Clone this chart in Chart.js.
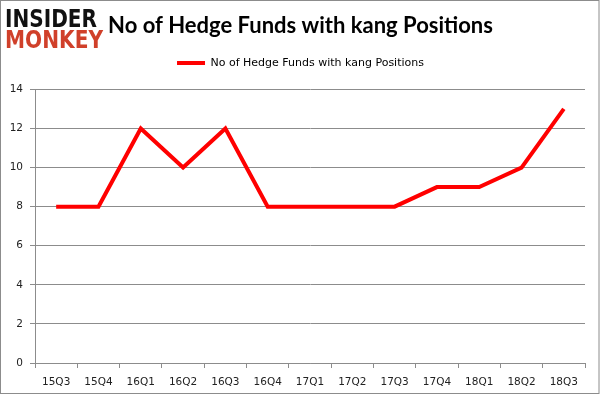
<!DOCTYPE html>
<html>
<head>
<meta charset="utf-8">
<script src="https://cdn.jsdelivr.net/npm/chart.js@4.4.0/dist/chart.umd.min.js"></script>
<style>
    html, body { margin: 0; padding: 0; background: #fff; }
    #wrap { width: 601px; height: 395px; position: relative; }
</style>
</head>
<body>
<div id="wrap"><canvas id="chartKang"></canvas></div>
<script>
var quarters = ["15Q3", "15Q4", "16Q1", "16Q2", "16Q3", "16Q4", "17Q1", "17Q2", "17Q3", "17Q4", "18Q1", "18Q2", "18Q3"];
var fundCounts = [8, 8, 12, 10, 12, 8, 8, 8, 8, 9, 9, 10, 13];
var seriesName = "No of Hedge Funds with kang Positions";
var chartTitle = "No of Hedge Funds with kang Positions";

(function () {
    // logo + moldura
    var frameAndLogo = {
        id: 'frameAndLogo',
        afterDraw: function (chart) {
            var ctx = chart.ctx;
            ctx.save();
            ctx.strokeStyle = '#8c8c8c';
            ctx.lineWidth = 1;
            ctx.strokeRect(0.5, 0.5, 598.5, 393);
            ctx.textBaseline = 'alphabetic';
            ctx.textAlign = 'left';
            ctx.font = 'bold 25px "DejaVu Sans"';
            ctx.fillStyle = '#111';
            ctx.fillText('INSIDER', 5, 27, 92);
            ctx.fillStyle = '#d0402a';
            ctx.fillText('MONKEY', 5, 48, 98);
            ctx.restore();
        }
    };

    // espaco extra abaixo da legenda
    var legendGap = {
        id: 'legendGap',
        beforeInit: function (chart) {
            var origFit = chart.legend.fit;
            chart.legend.fit = function () {
                origFit.bind(chart.legend)();
                this.height += 11;
            };
        }
    };

    var ctx = document.getElementById("chartKang").getContext("2d");
    new Chart(ctx, {
        type: 'line',
        data: {
            labels: quarters,
            datasets: [{
                label: seriesName,
                data: fundCounts,
                borderColor: '#ff0000',
                backgroundColor: '#ff0000',
                borderWidth: 4,
                pointRadius: 0,
                tension: 0,
                fill: false
            }]
        },
        options: {
            responsive: true,
            maintainAspectRatio: false,
            animation: false,
            layout: { padding: 0 },
            plugins: {
                title: {
                    display: true,
                    text: chartTitle,
                    color: '#000',
                    font: { family: 'Lato', size: 22, weight: 'bold' },
                    padding: { top: 13, bottom: 8 }
                },
                legend: {
                    display: true,
                    labels: {
                        usePointStyle: true,
                        pointStyle: 'line',
                        pointStyleWidth: 28,
                        color: '#000',
                        font: { family: 'DejaVu Sans', size: 11 },
                        padding: 10
                    }
                },
                tooltip: { enabled: false }
            },
            scales: {
                x: {
                    offset: true,
                    grid: {
                        offset: true,
                        drawOnChartArea: false,
                        color: '#8c8c8c',
                        tickLength: 5
                    },
                    border: { color: '#8c8c8c' },
                    ticks: {
                        color: '#222',
                        font: { family: 'DejaVu Sans', size: 10.5 },
                        padding: 8,
                        maxRotation: 0
                    },
                    afterFit: function (scale) { scale.height = 32; }
                },
                y: {
                    min: 0,
                    max: 14,
                    grid: {
                        color: '#8c8c8c',
                        tickLength: 5
                    },
                    border: { color: '#8c8c8c' },
                    ticks: {
                        stepSize: 2,
                        color: '#222',
                        font: { family: 'DejaVu Sans', size: 10.5 },
                        padding: 7
                    },
                    afterFit: function (scale) { scale.width = 35; }
                },
                // eixo vazio so para a margem direita
                yRight: {
                    position: 'right',
                    min: 0,
                    max: 14,
                    grid: { display: false },
                    border: { display: false },
                    ticks: { display: false },
                    afterFit: function (scale) { scale.width = 16; }
                }
            }
        },
        plugins: [frameAndLogo, legendGap]
    });
})();
</script>
</body>
</html>
